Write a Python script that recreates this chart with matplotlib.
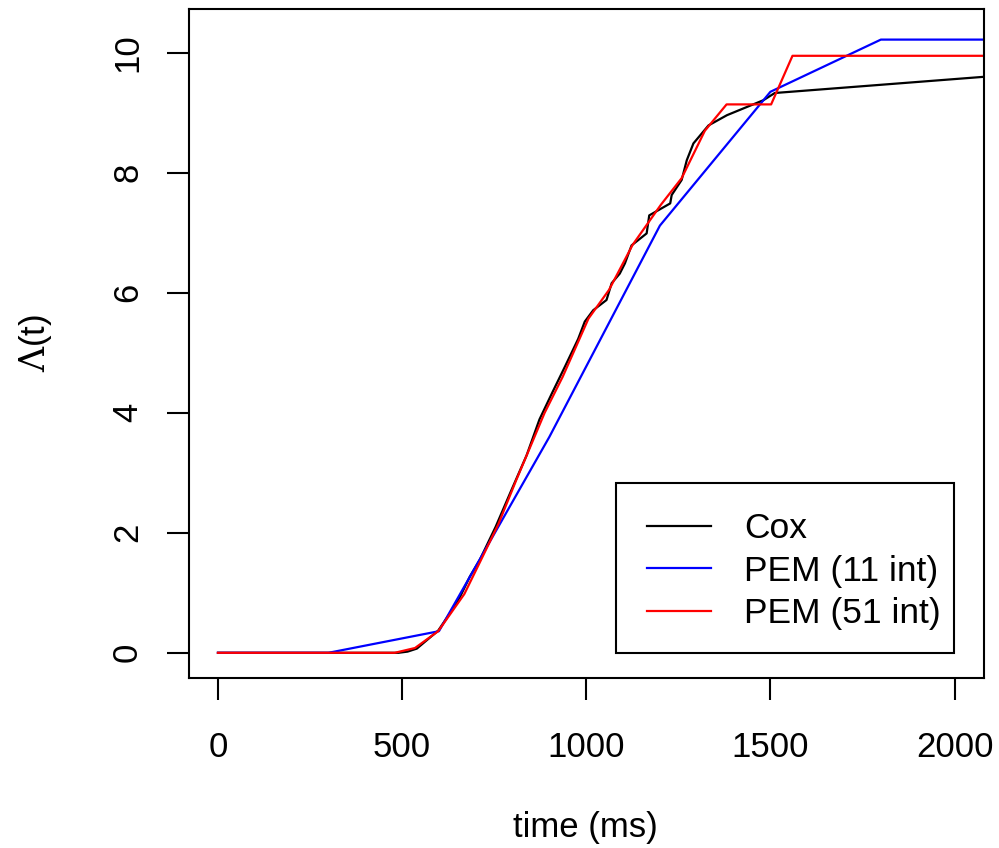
import numpy as np
import matplotlib.pyplot as plt
from matplotlib.patches import Rectangle
from matplotlib.lines import Line2D

plt.rcParams['font.family'] = ['Liberation Sans', 'DejaVu Sans']

# cumulative hazard curves
cox_t = [0, 490, 515, 540, 567, 598, 630, 657, 684, 711, 754, 796, 838, 873, 908,
         943, 978, 996, 1019, 1055, 1069, 1091, 1105, 1123, 1164, 1171, 1228, 1232,
         1259, 1273, 1291, 1332, 1382, 1481, 1512, 2080]
cox_h = [0, 0, 0.02, 0.07, 0.21, 0.37, 0.66, 0.93, 1.27, 1.55, 2.10, 2.70, 3.29, 3.89, 4.34,
         4.78, 5.23, 5.52, 5.71, 5.88, 6.16, 6.32, 6.49, 6.79, 6.99, 7.29, 7.49, 7.63,
         7.88, 8.21, 8.49, 8.79, 8.96, 9.21, 9.33, 9.60]

pem11_t = [0, 300, 600, 900, 1200, 1500, 1800, 2100]
pem11_h = [0, 0, 0.36, 3.60, 7.12, 9.35, 10.22, 10.22]

pem51_t = [0, 480, 535, 598, 669, 712, 761, 810, 887, 936, 1006, 1062, 1126, 1203,
           1259, 1322, 1381, 1502, 1560, 2100]
pem51_h = [0, 0, 0.08, 0.36, 0.98, 1.52, 2.14, 2.88, 4.0, 4.6, 5.57, 6.05, 6.8, 7.47,
           7.91, 8.7, 9.14, 9.14, 9.95, 9.95]

labels = ['Cox', 'PEM (11 int)', 'PEM (51 int)']
colors = ['black', 'blue', 'red']
xticks = [0, 500, 1000, 1500, 2000]
yticks = [0, 2, 4, 6, 8, 10]

FS = 25
W, H = 999, 848
fig = plt.figure(figsize=(W / 100, H / 100), dpi=100)
ax = fig.add_axes([188.5 / W, 1 - 678 / H, (984 - 188.5) / W, (678 - 9) / H])

lw = 1.6
ax.plot(cox_t, cox_h, color=colors[0], lw=lw)
ax.plot(pem11_t, pem11_h, color=colors[1], lw=lw)
ax.plot(pem51_t, pem51_h, color=colors[2], lw=lw)

ax.set_xlim(-80, 2080)
ax.set_ylim(-0.42, 10.73)
ax.set_xticks(xticks)
ax.set_yticks(yticks)
ax.set_xticklabels([str(v) for v in xticks], fontsize=FS)
ax.set_yticklabels([str(v) for v in yticks], fontsize=FS, rotation=90, va='center')
ax.tick_params(direction='out', length=16, width=1.5)
ax.tick_params(axis='x', pad=22)
ax.tick_params(axis='y', pad=16)
for s in ax.spines.values():
    s.set_linewidth(1.5)

fig.text(585 / W, 1 - 828 / H, 'time (ms)', fontsize=FS, ha='center', va='center')
fig.text(35 / W, 1 - 343 / H, r'$\Lambda$(t)', fontsize=FS, ha='center', va='center',
         rotation=90, math_fontfamily='dejavuserif')

# legend drawn by hand in pixel positions
def fx(px):
    return px / W

def fy(py):
    return 1 - py / H

fig.add_artist(Rectangle((fx(615.7), fy(652.7)), fx(954) - fx(615.7), fy(483) - fy(652.7),
                         transform=fig.transFigure, fill=False, lw=1.5, edgecolor='black'))
rows = [526, 568, 611]
for lab, c, r in zip(labels, colors, rows):
    fig.add_artist(Line2D([fx(647), fx(711)], [fy(r), fy(r)], color=c, lw=lw,
                          transform=fig.transFigure))
    fig.text(fx(744), fy(r + 12.5), lab, fontsize=FS + 0.5, ha='left', va='baseline')

fig.savefig('out.png', dpi=100)
